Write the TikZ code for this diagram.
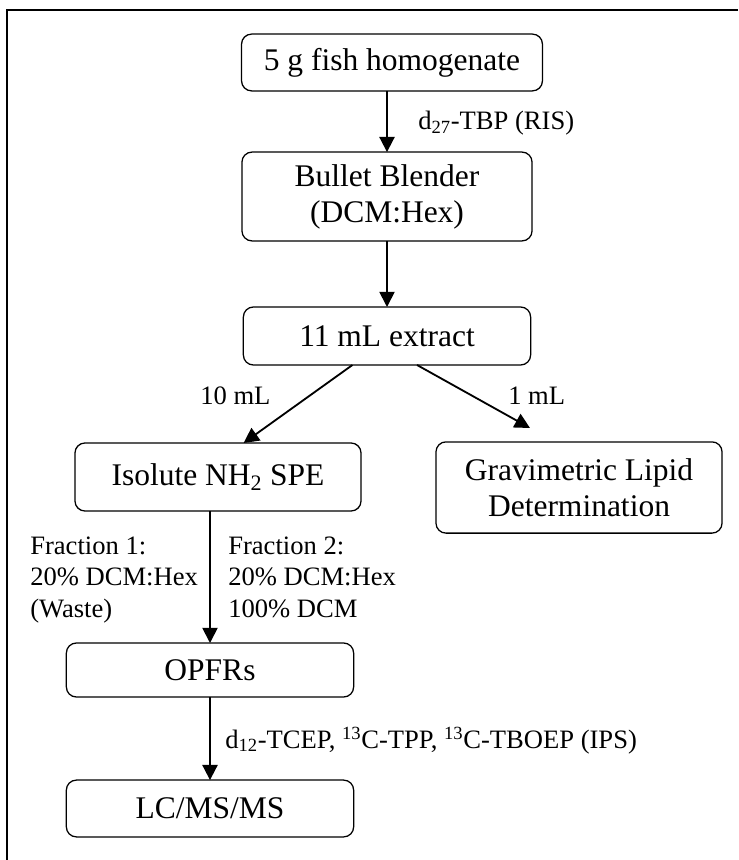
\documentclass[tikz,border=0pt]{standalone}
\usepackage{fontspec}
\setmainfont{Liberation Serif}
\usetikzlibrary{arrows.meta}
\tikzset{
  stepbox/.style={draw, rounded corners=0.25cm, line width=0.9pt, inner sep=0pt, outer sep=0pt,
    align=center, font=\fontsize{22.4}{25.5}\selectfont},
  flow/.style={-{Triangle[length=0.38cm,width=0.38cm]}, line width=1.3pt},
  lbl/.style={font=\fontsize{18.9}{22.4}\selectfont, inner sep=0pt, align=left},
}
\begin{document}
\begin{tikzpicture}[x=0.025cm, y=-0.025cm]
  \useasboundingbox (0,0) rectangle (738,860);
  % frame, only its top and left sides are inside the page
  \draw[line width=1.4pt] (738,10) -- (7,10) -- (7,860);

  \node[stepbox, minimum width=7.52cm, minimum height=1.42cm] (fish) at (392,62.5) {5 g fish homogenate};
  \node[stepbox, minimum width=7.25cm, minimum height=2.22cm] (blender) at (387,196.5) {Bullet Blender\\(DCM:Hex)};
  \node[stepbox, minimum width=7.18cm, minimum height=1.45cm] (extract) at (387,336) {11 mL extract};
  \node[stepbox, minimum width=7.15cm, minimum height=1.70cm] (spe) at (218,477) {Isolute NH\textsubscript{2} SPE};
  \node[stepbox, minimum width=7.15cm, minimum height=2.28cm] (lipid) at (579,487.5) {Gravimetric Lipid\\Determination};
  \node[stepbox, minimum width=7.18cm, minimum height=1.35cm] (opfr) at (210,670) {OPFRs};
  \node[stepbox, minimum width=7.18cm, minimum height=1.42cm] (lcms) at (210,808.5) {LC/MS/MS};

  \coordinate (lipidtip) at (530,428);
  \draw[flow] (fish.south -| blender.north) -- (blender.north);
  \draw[flow] (blender) -- (extract);
  \draw[flow] (extract.220) -- (spe.53);
  \draw[flow] (extract.316) -- (lipidtip);
  \draw[flow] (spe.south -| opfr.north) -- (opfr.north);
  \draw[flow] (opfr) -- (lcms);

  % labels
  \node[lbl, anchor=base west] (ris) at (418,130) {d\textsubscript{27}-TBP (RIS)};
  \node[lbl, anchor=base west] (tenml) at (200,404) {10 mL};
  \node[lbl, anchor=base west] (oneml) at (508,404) {1 mL};
  \node[lbl, anchor=base west] (frac1) at (30,617) {Fraction 1:\\20\% DCM:Hex\\(Waste)};
  \node[lbl, anchor=base west] (frac2) at (228,617) {Fraction 2:\\20\% DCM:Hex\\100\% DCM};
  \node[lbl, anchor=base west] (ips) at (225,748) {d\textsubscript{12}-TCEP, \textsuperscript{13}C-TPP, \textsuperscript{13}C-TBOEP (IPS)};
\end{tikzpicture}
\end{document}
